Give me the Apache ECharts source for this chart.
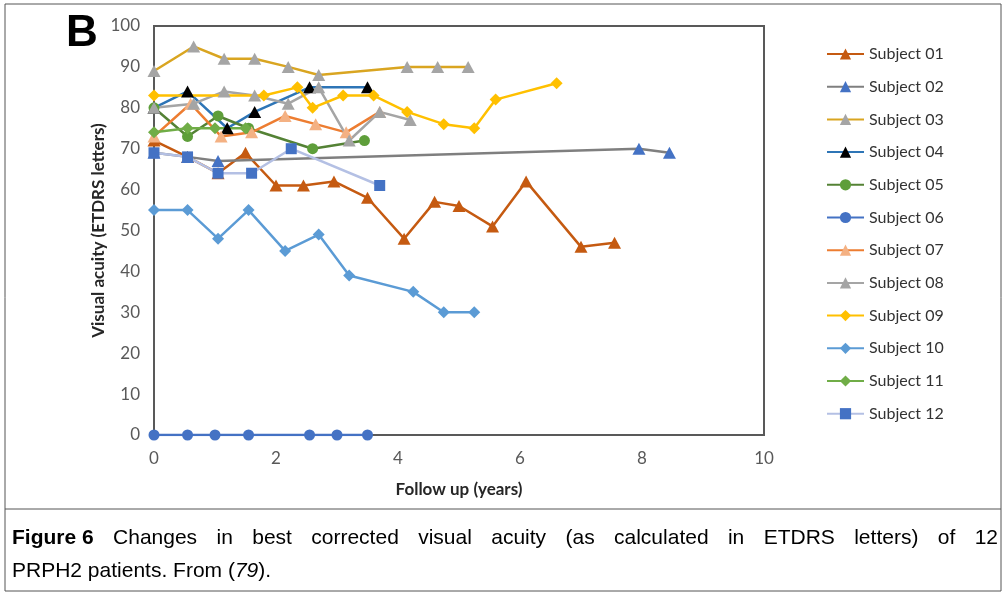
<!DOCTYPE html>
<html>
<head>
<meta charset="utf-8">
<script src="https://cdn.jsdelivr.net/npm/echarts@6/dist/echarts.min.js"></script>
<style>
  html, body { margin: 0; padding: 0; background: #fff; }
  #chart { width: 1006px; height: 595px; }
</style>
</head>
<body>
<div id="chart"></div>
<script>
// values (follow up in years, visual acuity in ETDRS letters)
var s01Years = [0, 0.55, 1.05, 1.5, 2.0, 2.45, 2.95, 3.5, 4.1, 4.6, 5.0, 5.55, 6.1, 7.0, 7.55];
var s01Va    = [72, 68, 64, 69, 61, 61, 62, 58, 48, 57, 56, 51, 62, 46, 47];
var s02Years = [0, 0.55, 1.05, 7.95, 8.45];
var s02Va    = [69, 68, 67, 70, 69];
var s03Years = [0, 0.65, 1.15, 1.65, 2.2, 2.7, 4.15, 4.65, 5.15];
var s03Va    = [89, 95, 92, 92, 90, 88, 90, 90, 90];
var s04Years = [0, 0.55, 1.2, 1.65, 2.55, 3.5];
var s04Va    = [80, 84, 75, 79, 85, 85];
var s05Years = [0, 0.55, 1.05, 1.55, 2.6, 3.45];
var s05Va    = [80, 73, 78, 75, 70, 72];
var s06Years = [0, 0.55, 1.0, 1.55, 2.55, 3.0, 3.5];
var s06Va    = [0, 0, 0, 0, 0, 0, 0];
var s07Years = [0, 0.6, 1.1, 1.6, 2.15, 2.65, 3.15, 3.7];
var s07Va    = [73, 81, 73, 74, 78, 76, 74, 79];
var s08Years = [0, 0.65, 1.15, 1.65, 2.2, 2.7, 3.2, 3.7, 4.2];
var s08Va    = [80, 81, 84, 83, 81, 85, 72, 79, 77];
var s09Years = [0, 1.8, 2.35, 2.6, 3.1, 3.6, 4.15, 4.75, 5.25, 5.6, 6.6];
var s09Va    = [83, 83, 85, 80, 83, 83, 79, 76, 75, 82, 86];
var s10Years = [0, 0.55, 1.05, 1.55, 2.15, 2.7, 3.2, 4.25, 4.75, 5.25];
var s10Va    = [55, 55, 48, 55, 45, 49, 39, 35, 30, 30];
var s11Years = [0, 0.55, 1.0, 1.5];
var s11Va    = [74, 75, 75, 75];
var s12Years = [0, 0.55, 1.05, 1.6, 2.25, 3.7];
var s12Va    = [69, 68, 64, 64, 70, 61];

var subjectNames = ['Subject 01', 'Subject 02', 'Subject 03', 'Subject 04', 'Subject 05', 'Subject 06',
                    'Subject 07', 'Subject 08', 'Subject 09', 'Subject 10', 'Subject 11', 'Subject 12'];
var yearTicks = [0, 10, 2];      // min, max, step
var vaTicks = [0, 100, 10];

var captionBold = 'Figure 6';
var captionLine1 = 'Changes in best corrected visual acuity (as calculated in ETDRS letters) of 12';
var captionLine2 = 'PRPH2 patients. From (';
var captionRef = '79';

// styling per subject: line colour, marker colour, marker shape, marker size
var looks = [
  ['#c55a11', '#c55a11', 'triangle', [13, 12]],
  ['#7f7f7f', '#4472c4', 'triangle', [13, 12]],
  ['#d9a521', '#a5a5a5', 'triangle', [13, 12]],
  ['#2e75b6', '#000000', 'triangle', [13, 12]],
  ['#548235', '#5e9e3a', 'circle', 11],
  ['#4472c4', '#4472c4', 'circle', 11],
  ['#ed7d31', '#f4b183', 'triangle', [13, 12]],
  ['#a5a5a5', '#a5a5a5', 'triangle', [13, 12]],
  ['#ffc000', '#ffc000', 'diamond', 12],
  ['#5b9bd5', '#5b9bd5', 'diamond', 12],
  ['#70ad47', '#70ad47', 'diamond', 12],
  ['#b4c0e4', '#4472c4', 'rect', 11]
];

var allYears = [s01Years, s02Years, s03Years, s04Years, s05Years, s06Years,
                s07Years, s08Years, s09Years, s10Years, s11Years, s12Years];
var allVa = [s01Va, s02Va, s03Va, s04Va, s05Va, s06Va,
             s07Va, s08Va, s09Va, s10Va, s11Va, s12Va];

var series = subjectNames.map(function (name, i) {
  var lk = looks[i];
  return {
    name: name,
    type: 'line',
    data: allYears[i].map(function (x, j) { return [x, allVa[i][j]]; }),
    symbol: lk[2],
    symbolSize: lk[3],
    showAllSymbol: true,
    lineStyle: { color: lk[0], width: 2.5 },
    itemStyle: { color: lk[1] },
    emphasis: { disabled: true },
    animation: false
  };
});

// justify caption line 1 across the box by spacing the words out
var ctx = document.createElement('canvas').getContext('2d');
var capFont = '21px "Liberation Sans", Arial, sans-serif';
var capBoldFont = 'bold 21px "Liberation Sans", Arial, sans-serif';
var words = [captionBold].concat(captionLine1.split(' '));
var widths = words.map(function (w, i) {
  ctx.font = i === 0 ? capBoldFont : capFont;
  return ctx.measureText(w).width;
});
var capLeft = 12, capRight = 998;
var total = widths.reduce(function (a, b) { return a + b; }, 0);
var gap = (capRight - capLeft - total) / (words.length - 1);
var capElems = [];
var cx = capLeft;
words.forEach(function (w, i) {
  capElems.push({
    type: 'text', x: cx, y: 538,
    style: { text: w, font: i === 0 ? capBoldFont : capFont, fill: '#000', verticalAlign: 'middle' }
  });
  cx += widths[i] + gap;
});
capElems.push({
  type: 'text', x: capLeft, y: 571,
  style: {
    text: '{n|' + captionLine2 + '}{i|' + captionRef + '}{n|).}',
    verticalAlign: 'middle',
    rich: {
      n: { font: capFont, fill: '#000' },
      i: { font: 'italic 21px "Liberation Sans", Arial, sans-serif', fill: '#000' }
    }
  }
});

var chart = echarts.init(document.getElementById('chart'));
chart.setOption({
  animation: false,
  backgroundColor: '#fff',
  grid: {
    left: 154, top: 26, width: 610, height: 409,
    show: true, borderColor: '#595959', borderWidth: 2
  },
  xAxis: {
    type: 'value',
    min: yearTicks[0], max: yearTicks[1], interval: yearTicks[2],
    name: 'Follow up (years)',
    nameLocation: 'middle',
    nameGap: 46,
    nameMoveOverlap: false,
    nameTextStyle: { fontFamily: 'Lato', fontWeight: 'bold', fontSize: 17, color: '#262626' },
    axisLine: { lineStyle: { color: '#595959', width: 2 } },
    axisTick: { show: false },
    splitLine: { show: false },
    axisLabel: { margin: 15, fontFamily: 'Lato', fontSize: 17, color: '#595959' }
  },
  yAxis: {
    type: 'value',
    min: vaTicks[0], max: vaTicks[1], interval: vaTicks[2],
    name: 'Visual acuity (ETDRS letters)',
    nameLocation: 'middle',
    nameGap: 47,
    nameMoveOverlap: false,
    nameTextStyle: { fontFamily: 'Lato', fontWeight: 'bold', fontSize: 17, color: '#262626' },
    axisLine: { show: true, lineStyle: { color: '#595959', width: 2 } },
    axisTick: { show: false },
    splitLine: { show: false },
    axisLabel: { margin: 14, fontFamily: 'Lato', fontSize: 17, color: '#595959' }
  },
  legend: {
    orient: 'vertical',
    left: 821, top: 41,
    itemWidth: 37, itemHeight: 14,
    itemGap: 16.7,
    data: subjectNames,
    textStyle: { fontFamily: 'Lato', fontSize: 16, color: '#333' }
  },
  graphic: [
    { type: 'rect', shape: { x: 5, y: 4, width: 996, height: 587 }, style: { fill: 'none', stroke: '#555', lineWidth: 1 } },
    { type: 'line', shape: { x1: 5, y1: 509, x2: 1001, y2: 509 }, style: { stroke: '#555', lineWidth: 1 } },
    { type: 'text', x: 66, y: 34, style: { text: 'B', font: 'bold 44px "Liberation Sans", Arial, sans-serif', fill: '#000', verticalAlign: 'middle' } }
  ].concat(capElems),
  series: series
});
</script>
</body>
</html>
